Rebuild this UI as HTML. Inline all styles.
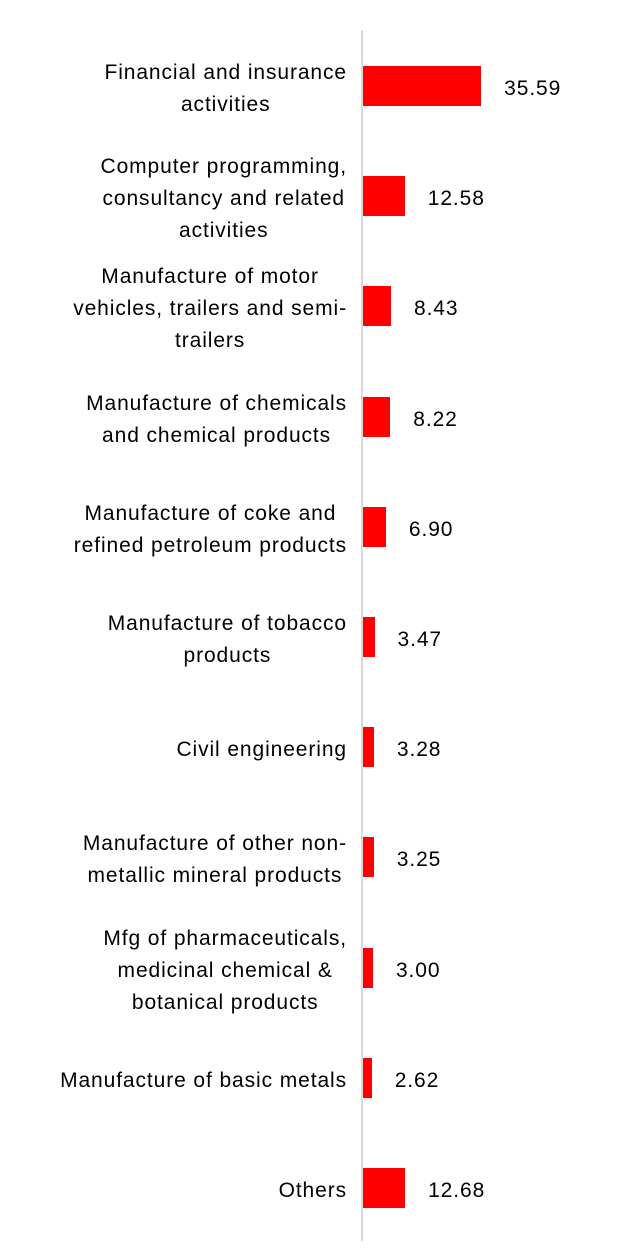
<!DOCTYPE html>
<html><head><meta charset="utf-8"><style>
body{margin:0;background:#fff;width:637px;height:1259px;position:relative;overflow:hidden;font-family:"Liberation Sans",sans-serif;color:#000}
.lbl{position:absolute;right:290px;text-align:center;font-size:21px;letter-spacing:0.9px;line-height:32px;white-space:nowrap;transform:translateY(-50%)}
.bar{position:absolute;left:363px;height:40px;background:#ff0000}
.val{position:absolute;font-size:21px;letter-spacing:0.9px;line-height:24px;transform:translateY(-50%)}
#axis{position:absolute;left:361px;top:30px;width:2px;height:1211px;background:#d9d9d9}
</style></head><body>
<div id="chart">
<div id="axis"></div>
</div>
<script>
const categories=[["Financial and insurance","activities"],["Computer programming,","consultancy and related","activities"],["Manufacture of motor","vehicles, trailers and semi-","trailers"],["Manufacture of chemicals","and chemical products"],["Manufacture of coke and","refined petroleum products"],["Manufacture of tobacco","products"],["Civil engineering"],["Manufacture of other non-","metallic mineral products"],["Mfg of pharmaceuticals,","medicinal chemical &","botanical products"],["Manufacture of basic metals"],["Others"]];
const values=[35.59,12.58,8.43,8.22,6.90,3.47,3.28,3.25,3.00,2.62,12.68];
const valueLabels=["35.59","12.58","8.43","8.22","6.90","3.47","3.28","3.25","3.00","2.62","12.68"];
const x0=363, pxPerUnit=3.32, y0=86, step=110.2;
function xScale(v){return v*pxPerUnit;}
function yScale(i){return y0+i*step;}
const chart=document.getElementById('chart');
categories.forEach((c,i)=>{
  const cy=yScale(i);
  const l=document.createElement('div');
  l.className='lbl';l.style.top=(cy+3)+'px';l.innerHTML=c.join('<br>');
  
  
  chart.appendChild(l);
  const b=document.createElement('div');
  const w=xScale(values[i]);
  b.className='bar';b.style.top=(cy-20)+'px';b.style.width=w+'px';
  
  
  chart.appendChild(b);
  const v=document.createElement('div');
  v.className='val';v.style.top=(cy+3)+'px';v.style.left=(x0+w+23)+'px';v.textContent=valueLabels[i];
  
  
  chart.appendChild(v);
});
</script>
</body></html>
